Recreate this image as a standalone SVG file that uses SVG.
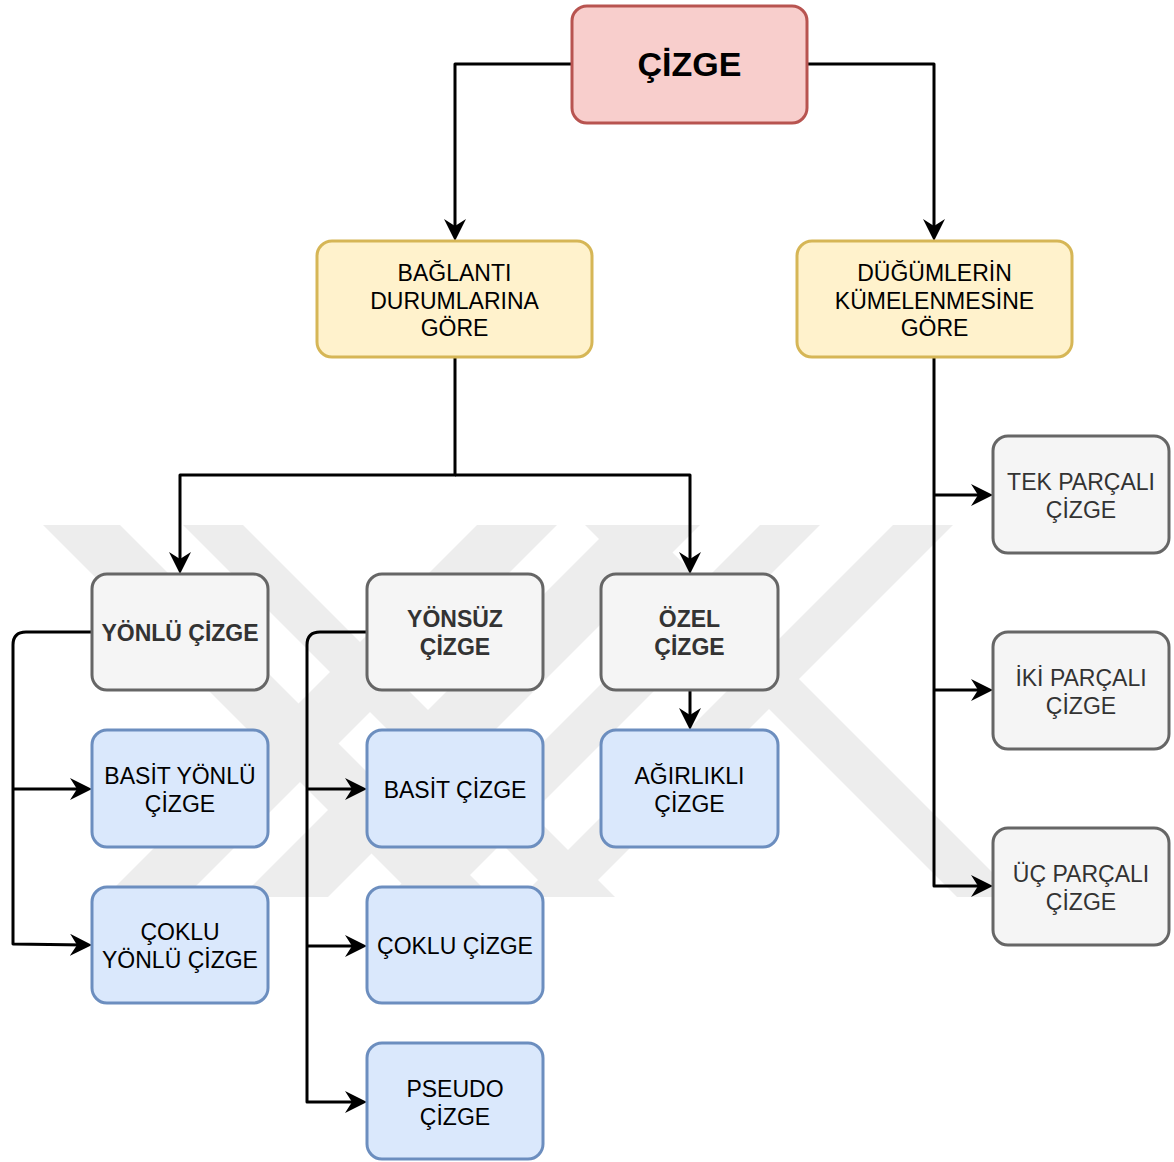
<svg xmlns="http://www.w3.org/2000/svg" width="1174" height="1162" viewBox="0 0 1174 1162">
<defs>
<style>
.wm{fill:#ededed}
.n rect{stroke-width:3}
.red rect{fill:#f8cecc;stroke:#b85450}
.yel rect{fill:#fff2cc;stroke:#d6b656}
.gry rect{fill:#f5f5f5;stroke:#666666}
.blu rect{fill:#dae8fc;stroke:#6c8ebf}
.n text{font-family:"Liberation Sans",Arial,sans-serif;font-size:23px;text-anchor:middle;fill:#000}
.gry text{fill:#333333}
.b text{font-weight:bold}
.c path{fill:none;stroke:#000;stroke-width:3;stroke-linejoin:round}
.a{marker-end:url(#arr)}
</style>
<marker id="arr" markerUnits="userSpaceOnUse" viewBox="0 0 22 22" markerWidth="22" markerHeight="22" refX="15" refY="11" orient="auto">
<path d="M0,0 L22,11 L0,22 L7,11 Z" fill="#000"/>
</marker>
<clipPath id="wmclip"><rect x="0" y="525" width="1174" height="372"/></clipPath>
</defs>
<rect width="1174" height="1162" fill="#ffffff"/>
<g id="watermark" clip-path="url(#wmclip)">
<polygon class="wm" points="43,525 120,525 492,897 415,897"/>
<polygon class="wm" points="183,525 243,525 615,897 555,897"/>
<polygon class="wm" points="477,525 557,525 185,897 105,897"/>
<polygon class="wm" points="613,525 700,525 328,897 241,897"/>
<polygon class="wm" points="760,525 820,525 448,897 388,897"/>
<polygon class="wm" points="893,525 953,525 581,897 521,897"/>
<polygon class="wm" points="585,525 645,525 1017,897 957,897"/>
</g>
<g id="connectors" class="c">
<path class="a" d="M572,64 H455 V234"/>
<path class="a" d="M807,64 H934 V234"/>
<path class="a" d="M455,357 V475 H180 V567"/>
<path class="a" d="M455,475 H690 V567"/>
<path class="a" d="M934,357 V886 H986"/>
<path class="a" d="M934,495 H986"/>
<path class="a" d="M934,690 H986"/>
<path class="a" d="M92,632 H26 Q13,632 13,645 V944 L85,945"/>
<path class="a" d="M13,789 H85"/>
<path class="a" d="M367,632 H320 Q307,632 307,645 V1102 H360"/>
<path class="a" d="M307,789 H360"/>
<path class="a" d="M307,946 H360"/>
<path class="a" d="M690,690 V723"/>
</g>
<g id="cizge" class="n red b"><rect x="572" y="6" width="235" height="117" rx="15"/><text x="689.5" y="76" style="font-size:34px">ÇİZGE</text></g>
<g id="baglanti" class="n yel"><rect x="317" y="241" width="275" height="116" rx="15"/><text x="454.5" y="281">BAĞLANTI</text><text x="454.5" y="309">DURUMLARINA</text><text x="454.5" y="336">GÖRE</text></g>
<g id="dugumler" class="n yel"><rect x="797" y="241" width="275" height="116" rx="15"/><text x="934.5" y="281">DÜĞÜMLERİN</text><text x="934.5" y="309">KÜMELENMESİNE</text><text x="934.5" y="336">GÖRE</text></g>
<g id="yonlu" class="n gry b"><rect x="92" y="574" width="176" height="116" rx="15"/><text x="180" y="641">YÖNLÜ ÇİZGE</text></g>
<g id="yonsuz" class="n gry b"><rect x="367" y="574" width="176" height="116" rx="15"/><text x="455" y="627">YÖNSÜZ</text><text x="455" y="655">ÇİZGE</text></g>
<g id="ozel" class="n gry b"><rect x="601" y="574" width="177" height="116" rx="15"/><text x="689.5" y="627">ÖZEL</text><text x="689.5" y="655">ÇİZGE</text></g>
<g id="basit-yonlu" class="n blu"><rect x="92" y="730" width="176" height="117" rx="15"/><text x="180" y="784">BASİT YÖNLÜ</text><text x="180" y="812">ÇİZGE</text></g>
<g id="coklu-yonlu" class="n blu"><rect x="92" y="887" width="176" height="116" rx="15"/><text x="180" y="940">ÇOKLU</text><text x="180" y="968">YÖNLÜ ÇİZGE</text></g>
<g id="basit" class="n blu"><rect x="367" y="730" width="176" height="117" rx="15"/><text x="455" y="798">BASİT ÇİZGE</text></g>
<g id="coklu" class="n blu"><rect x="367" y="887" width="176" height="116" rx="15"/><text x="455" y="954">ÇOKLU ÇİZGE</text></g>
<g id="pseudo" class="n blu"><rect x="367" y="1043" width="176" height="116" rx="15"/><text x="455" y="1097">PSEUDO</text><text x="455" y="1125">ÇİZGE</text></g>
<g id="agirlikli" class="n blu"><rect x="601" y="730" width="177" height="117" rx="15"/><text x="689.5" y="784">AĞIRLIKLI</text><text x="689.5" y="812">ÇİZGE</text></g>
<g id="tek" class="n gry"><rect x="993" y="436" width="176" height="117" rx="15"/><text x="1081" y="490">TEK PARÇALI</text><text x="1081" y="518">ÇİZGE</text></g>
<g id="iki" class="n gry"><rect x="993" y="632" width="176" height="117" rx="15"/><text x="1081" y="686">İKİ PARÇALI</text><text x="1081" y="714">ÇİZGE</text></g>
<g id="uc" class="n gry"><rect x="993" y="828" width="176" height="117" rx="15"/><text x="1081" y="882">ÜÇ PARÇALI</text><text x="1081" y="910">ÇİZGE</text></g>
</svg>
